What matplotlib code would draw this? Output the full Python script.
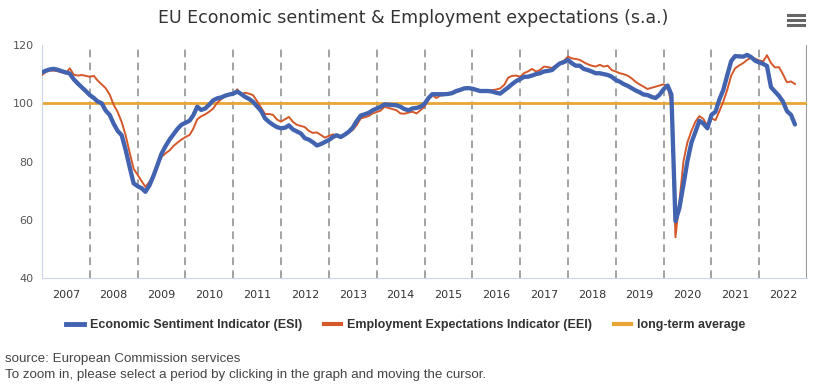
import pandas as pd
import matplotlib.pyplot as plt
from matplotlib.lines import Line2D

# Monthly values, Jan 2007 - Oct 2022
esi = [
    # 2007
    110.6, 111.2, 111.6, 111.8, 111.5, 111.0, 110.6, 110.2, 108.2, 106.8, 105.5, 104.2,
    # 2008
    102.8, 101.8, 100.6, 100.0, 97.5, 96.0, 93.0, 90.5, 89.0, 84.0, 78.0, 72.5,
    # 2009
    71.5, 70.8, 69.6, 71.8, 75.0, 78.8, 82.6, 85.2, 87.5, 89.3, 91.2, 92.6,
    # 2010
    93.3, 94.0, 95.8, 98.8, 97.7, 98.2, 99.5, 101.0, 101.7, 102.0, 102.6, 103.0,
    # 2011
    103.3, 104.0, 103.2, 102.2, 101.5, 100.5, 99.0, 97.4, 94.8, 93.6, 92.6, 91.8,
    # 2012
    91.4, 91.6, 92.4, 91.0, 90.3, 89.6, 88.0, 87.5, 86.6, 85.5, 86.0, 86.7,
    # 2013
    87.4, 88.4, 89.0, 88.4, 89.2, 90.2, 91.6, 93.9, 95.8, 96.2, 96.7, 97.6,
    # 2014
    98.2, 98.8, 99.6, 99.5, 99.4, 99.3, 98.8, 98.0, 97.6, 98.2, 98.4, 98.8,
    # 2015
    99.8, 101.8, 103.1, 103.1, 103.1, 103.1, 103.2, 103.5, 104.2, 104.6, 105.1, 105.2,
    # 2016
    105.0, 104.6, 104.2, 104.2, 104.2, 104.0, 103.6, 103.3, 104.4, 105.4, 106.6, 107.6,
    # 2017
    108.3, 109.1, 109.1, 109.5, 110.0, 110.3, 110.9, 111.1, 111.4, 112.6, 113.7, 114.1,
    # 2018
    114.9, 113.7, 112.9, 112.9, 111.8, 111.4, 110.9, 110.3, 110.3, 110.0, 109.7, 109.1,
    # 2019
    108.0, 107.4, 106.6, 106.0, 105.2, 104.4, 103.8, 103.0, 102.8, 102.2, 101.8, 102.9,
    # 2020
    104.8, 106.1, 103.0, 59.5, 64.0, 72.0, 80.0, 86.5, 90.2, 94.0, 93.0, 91.4,
    # 2021
    96.0, 97.1, 101.1, 104.5, 109.5, 114.5, 116.2, 116.1, 116.0, 116.6, 115.8, 114.6,
    # 2022
    114.0, 113.5, 112.8, 105.5, 104.0, 102.5, 100.6, 97.3, 96.0, 92.7,
]

eei = [
    # 2007
    109.7, 110.8, 111.2, 111.2, 111.0, 110.6, 110.2, 112.0, 109.8, 109.5, 109.7, 109.4,
    # 2008
    109.1, 109.4, 107.8, 106.5, 105.2, 103.0, 99.5, 97.0, 93.5, 89.0, 83.0, 77.5,
    # 2009
    75.4, 73.2, 71.3, 73.0, 75.5, 78.5, 81.5, 82.8, 83.8, 85.3, 86.5, 87.5,
    # 2010
    88.4, 89.1, 91.2, 94.5, 95.5, 96.2, 97.1, 98.2, 100.2, 101.4, 102.6, 103.0,
    # 2011
    103.3, 104.8, 103.0, 103.6, 103.3, 102.8, 100.8, 98.5, 96.3, 96.3, 96.0, 94.4,
    # 2012
    93.7, 94.5, 95.3, 93.6, 92.6, 92.2, 91.8, 90.5, 89.8, 90.0, 89.1, 88.2,
    # 2013
    88.8, 89.3, 89.1, 88.5, 89.0, 90.0, 90.8, 92.5, 94.8, 95.2, 95.6, 96.5,
    # 2014
    97.0, 97.5, 98.8, 98.4, 98.0, 97.6, 96.5, 96.4, 96.8, 97.1, 96.5, 97.6,
    # 2015
    98.8, 101.5, 102.8, 101.8, 102.6, 102.8, 103.0, 103.4, 103.8, 104.3, 105.0, 105.1,
    # 2016
    104.9, 104.6, 104.5, 104.5, 104.5, 104.5, 104.7, 105.1, 106.3, 108.8, 109.4, 109.5,
    # 2017
    109.1, 110.4, 110.9, 111.8, 110.9, 111.4, 112.6, 112.4, 112.1, 113.0, 113.9, 114.6,
    # 2018
    116.0, 115.4, 115.2, 114.9, 114.1, 113.4, 112.9, 112.6, 113.2, 112.6, 112.9, 111.4,
    # 2019
    110.9, 110.3, 110.0, 109.5, 108.6, 107.4, 106.5, 105.7, 104.9, 105.3, 105.7, 106.1,
    # 2020
    106.5, 105.8, 100.0, 54.0, 66.0, 80.0, 86.5, 90.5, 93.7, 95.6, 94.6, 92.2,
    # 2021
    94.8, 94.2, 97.1, 100.5, 104.5, 109.5, 112.0, 113.0, 113.8, 114.9, 115.7, 115.3,
    # 2022
    114.7, 114.4, 116.5, 113.8, 112.3, 112.4, 110.0, 107.2, 107.5, 106.6,
]

long_term_avg = 100
years = list(range(2007, 2023))
y_ticks = [40, 60, 80, 100, 120]

dates = pd.date_range("2007-01-01", periods=len(esi), freq="MS")
df = pd.DataFrame({"ESI": esi, "EEI": eei}, index=dates)

blue = "#4263b0"
orange = "#d4582a"
gold = "#e8a538"

fig = plt.figure(figsize=(8.15, 3.91), dpi=100)
ax = fig.add_axes([42 / 815, 1 - 278 / 391, 765 / 815, 233 / 391])

# year boundaries
for yr in years[1:]:
    ax.axvline(pd.Timestamp(f"{yr}-01-01"), color="#8a8a8a", lw=1.1,
               dashes=(5, 3.5), zorder=1)
ax.axvline(pd.Timestamp("2023-01-01"), color="#999999", lw=1.5, zorder=1)

ax.axhline(long_term_avg, color=gold, lw=2, zorder=2)
ax.plot(df.index, df["EEI"], color=orange, lw=1.4, zorder=3)
ax.plot(df.index, df["ESI"], color=blue, lw=3.1, zorder=4,
        solid_joinstyle="round", solid_capstyle="round")

ax.set_xlim(pd.Timestamp("2007-01-01"), pd.Timestamp("2023-01-01"))
ax.set_ylim(40, 120)
ax.set_yticks(y_ticks)
ax.set_xticks([pd.Timestamp(f"{yr}-07-02") for yr in years])
ax.set_xticklabels([str(yr) for yr in years])
ax.tick_params(axis="x", length=0, pad=9, labelsize=8, labelcolor="#333333")
ax.tick_params(axis="y", length=0, pad=6, labelsize=8, labelcolor="#555555")

for side in ["top", "right"]:
    ax.spines[side].set_visible(False)
ax.spines["left"].set_color("#ccd6eb")
ax.spines["bottom"].set_color("#ccd6eb")

fig.text(413 / 815, 1 - 18 / 391, "EU Economic sentiment & Employment expectations (s.a.)",
         ha="center", va="center", fontsize=12.5, color="#333333")

# menu icon
for yy in [15, 20, 25]:
    fig.add_artist(Line2D([788 / 815, 804 / 815], [1 - yy / 391, 1 - yy / 391],
                          color="#666666", lw=2.2))

handles = [
    Line2D([], [], color=blue, lw=3.5),
    Line2D([], [], color=orange, lw=3),
    Line2D([], [], color=gold, lw=3),
]
labels = ["Economic Sentiment Indicator (ESI)",
          "Employment Expectations Indicator (EEI)",
          "long-term average"]
fig.legend(handles, labels, loc="center", bbox_to_anchor=(406 / 815, 1 - 325 / 391),
           ncol=3, frameon=False, handlelength=1.4, handletextpad=0.5,
           columnspacing=1.7,
           prop={"family": "Liberation Sans", "weight": "bold", "size": 9},
           labelcolor="#333333")

fig.text(5 / 815, 1 - 359 / 391, "source: European Commission services",
         ha="left", va="center", fontsize=9.6, color="#444444", family="Liberation Sans")
fig.text(5 / 815, 1 - 375 / 391,
         "To zoom in, please select a period by clicking in the graph and moving the cursor.",
         ha="left", va="center", fontsize=9.6, color="#444444", family="Liberation Sans")

fig.savefig("out.png", dpi=100)
